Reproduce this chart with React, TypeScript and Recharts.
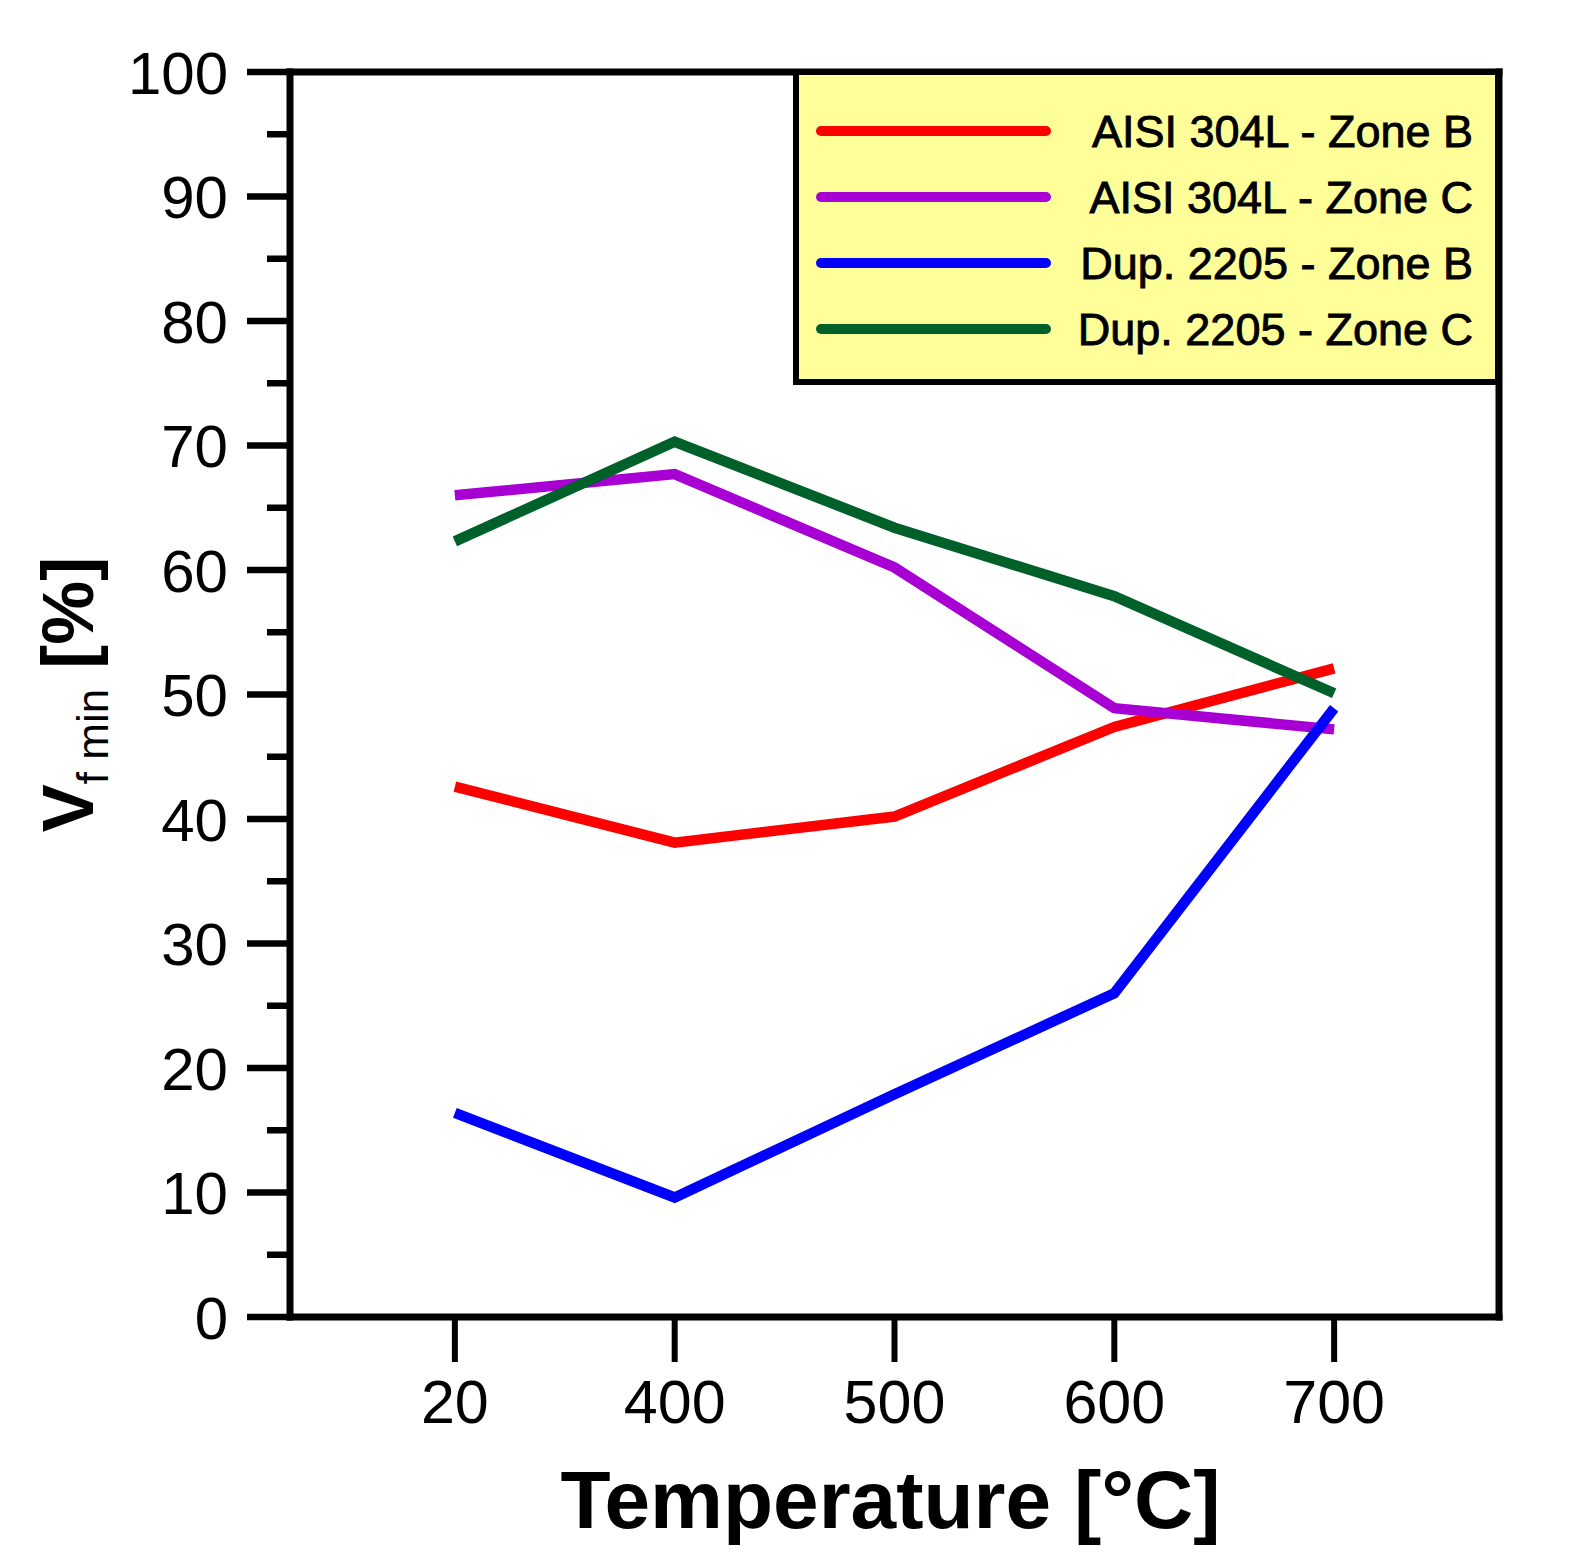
import React from 'react';
import { LineChart, Line, XAxis, YAxis, Legend, ReferenceLine } from 'recharts';

const FONT = '"Liberation Sans", Arial, Helvetica, sans-serif';

const temperatures = ['20', '400', '500', '600', '700'];
const aisiZoneB = [42.6, 38.1, 40.2, 47.4, 52.1];
const aisiZoneC = [66.0, 67.7, 60.2, 48.9, 47.2];
const dupZoneB = [16.4, 9.6, 17.9, 26.0, 48.9];
const dupZoneC = [62.3, 70.3, 63.4, 57.9, 50.1];
const yTicks = [0, 5, 10, 15, 20, 25, 30, 35, 40, 45, 50, 55, 60, 65, 70, 75, 80, 85, 90, 95, 100];
const xTicks = [0, 1, 2, 3, 4];
const xDomain = [-0.75, 4.75];
const yDomain = [0, 100];

const series = [
  { key: 'aisiB', name: 'AISI 304L - Zone B', color: '#ff0000', values: aisiZoneB },
  { key: 'aisiC', name: 'AISI 304L - Zone C', color: '#a800d4', values: aisiZoneC },
  { key: 'dupB', name: 'Dup. 2205 - Zone B', color: '#0000ff', values: dupZoneB },
  { key: 'dupC', name: 'Dup. 2205 - Zone C', color: '#00602a', values: dupZoneC },
];

const data = temperatures.map((t, i) => {
  const row: any = { idx: i, temp: t };
  series.forEach((s) => {
    row[s.key] = s.values[i];
  });
  return row;
});

const YTick = (props: any) => {
  const { x, y, payload } = props;
  const major = payload.value % 10 === 0;
  return (
    <g>
      <line x1={x - (major ? 43 : 23)} x2={x} y1={y} y2={y} stroke="#000" strokeWidth={6.5} />
      {major && (
        <text x={x - 62} y={y} dy="0.36em" textAnchor="end" fontSize={60} fontFamily={FONT} fill="#000">
          {payload.value}
        </text>
      )}
    </g>
  );
};

const XTick = (props: any) => {
  const { x, y, payload } = props;
  return (
    <g>
      <line x1={x} x2={x} y1={y} y2={y + 45} stroke="#000" strokeWidth={6} />
      <text x={x} y={y + 106} textAnchor="middle" fontSize={61} fontFamily={FONT} fill="#000">
        {temperatures[payload.value]}
      </text>
    </g>
  );
};

const YLabel = (props: any) => {
  const vb = props.viewBox || {};
  const cx = 93;
  const cy = (vb.y ?? 72) + (vb.height ?? 1245) / 2;
  return (
    <text
      x={cx}
      y={cy}
      transform={`rotate(-90, ${cx}, ${cy})`}
      textAnchor="middle"
      fontFamily={FONT}
      fill="#000"
    >
      <tspan fontSize={72} fontWeight="bold">V</tspan>
      <tspan fontSize={44} dy={15}>{'f min'}</tspan>
      <tspan fontSize={72} fontWeight="bold" dy={-15}>{' [%]'}</tspan>
    </text>
  );
};

const XLabel = (props: any) => {
  const vb = props.viewBox || {};
  const cx = (vb.x ?? 290) + (vb.width ?? 1209) / 2 - 4;
  const y = (vb.y ?? 1317) + 211;
  return (
    <text x={cx} y={y} textAnchor="middle" fontFamily={FONT} fontSize={82} fontWeight="bold" fill="#000">
      Temperature [°C]
    </text>
  );
};

const LegendBox = (props: any) => {
  const payload = props.payload || [];
  return (
    <div
      style={{
        width: 708,
        height: 316,
        boxSizing: 'border-box',
        border: '6px solid #000',
        background: '#ffff99',
      }}
    >
      <svg width={696} height={304} style={{ display: 'block' }}>
        {payload.map((p: any, i: number) => {
          const cy = 56 + i * 66;
          return (
            <g key={i}>
              <line x1={22} x2={247} y1={cy} y2={cy} stroke={p.color} strokeWidth={10} strokeLinecap="round" />
              <text
                x={674}
                y={cy}
                dy="0.36em"
                textAnchor="end"
                fontSize={45}
                fontFamily={FONT}
                fill="#000"
                stroke="#000"
                strokeWidth={0.9}
              >
                {p.value}
              </text>
            </g>
          );
        })}
      </svg>
    </div>
  );
};

const axisLineStyle = { stroke: '#000', strokeWidth: 7, strokeLinecap: 'square' as const };

export default function App() {
  return (
    <div style={{ position: 'absolute', left: 0, top: 0, width: 1580, height: 1567, background: '#fff' }}>
      <LineChart
        width={1580}
        height={1567}
        data={data}
        margin={{ top: 72, right: 81, bottom: 150, left: 0 }}
      >
        <XAxis
          dataKey="idx"
          type="number"
          domain={xDomain}
          ticks={xTicks}
          allowDataOverflow
          height={100}
          tickSize={0}
          tickMargin={0}
          tickLine={false}
          tick={<XTick />}
          axisLine={axisLineStyle}
          label={{ content: <XLabel /> }}
        />
        <YAxis
          type="number"
          domain={yDomain}
          ticks={yTicks}
          interval={0}
          width={290}
          tickSize={0}
          tickMargin={0}
          tickLine={false}
          tick={<YTick />}
          axisLine={axisLineStyle}
          label={{ content: <YLabel /> }}
        />
        <ReferenceLine y={yDomain[1]} stroke="#000" strokeWidth={7} strokeLinecap="square" />
        <ReferenceLine x={xDomain[1]} stroke="#000" strokeWidth={7} strokeLinecap="square" />
        <Legend
          layout="vertical"
          align="center"
          verticalAlign="middle"
          wrapperStyle={{ left: 793, top: 69, width: 708, height: 318 }}
          content={<LegendBox />}
        />
        {series.map((s) => (
          <Line
            key={s.key}
            dataKey={s.key}
            name={s.name}
            stroke={s.color}
            strokeWidth={10.5}
            dot={false}
            activeDot={false}
            isAnimationActive={false}
          />
        ))}
      </LineChart>
    </div>
  );
}
